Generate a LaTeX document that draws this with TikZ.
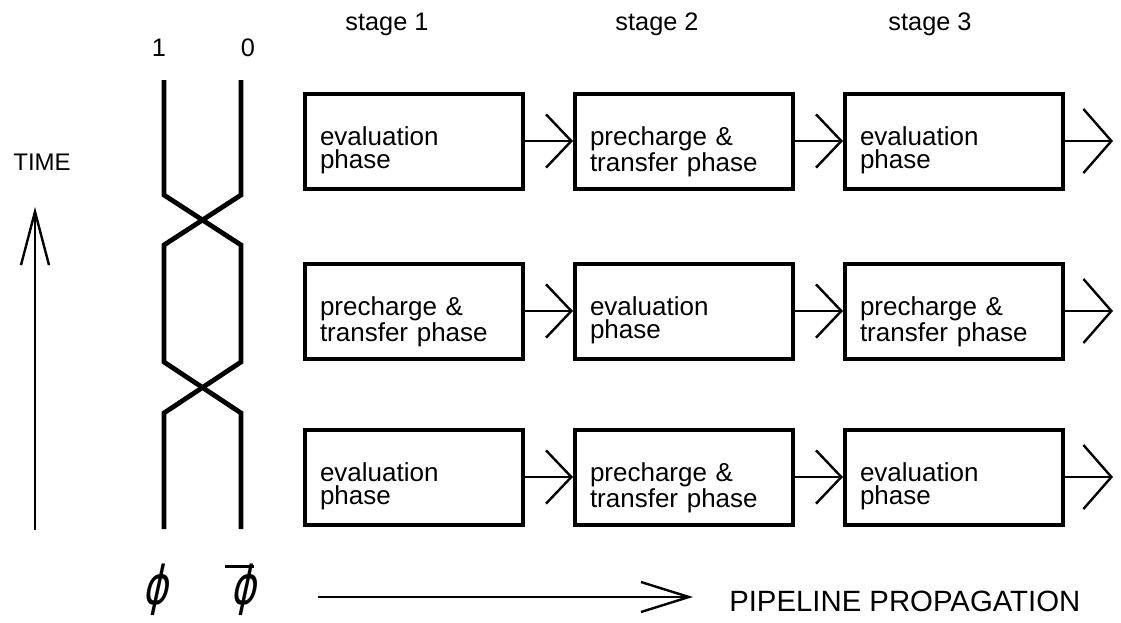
\documentclass[tikz,border=0pt]{standalone}
\usepackage{fontspec}
\setmainfont{Liberation Sans}
\newfontfamily\phifont[FakeSlant=0.3]{DejaVu Sans}
\usepackage{graphicx}
\usetikzlibrary{arrows.meta}
\newcommand{\phiglyph}{{\phifont\fontsize{40}{40}\selectfont\scalebox{0.72}[1]{ϕ}}}
\begin{document}
\begin{tikzpicture}[x=0.75pt,y=-0.75pt,
  box/.style={draw, line width=3pt, minimum width=163.5pt, minimum height=71.25pt,
    inner sep=0pt, text width=141pt, align=left,
    font=\fontsize{19.5}{17}\selectfont, text height=28pt, text depth=21pt},
  link/.style={line width=1.6pt, -{Straight Barb[length=19pt,width=40pt,line width=1.8pt]}},
  outlink/.style={line width=1.6pt, -{Straight Barb[length=21pt,width=48pt,line width=1.8pt]}},
  signal/.style={line width=3.6pt},
  lab/.style={inner sep=0pt, anchor=base, font=\fontsize{19}{19}\selectfont},
  phisym/.style={inner sep=0pt}
]
\useasboundingbox (0,0) rectangle (1121,622);

% stage labels
\node[lab] (st1) at (387,30) {stage 1};
\node[lab] (st2) at (657,30) {stage 2};
\node[lab] (st3) at (930,30) {stage 3};

% signal level labels
\node[lab] (one) at (159,56) {1};
\node[lab] (zero) at (248,56) {0};

% clock signals
\draw[signal] (164,80) -- (164,195) -- (241,245) -- (241,362) -- (164,413) -- (164,529);
\draw[signal] (241,80) -- (241,195) -- (164,245) -- (164,362) -- (241,413) -- (241,529);

% phi symbols
\node[phisym] (phi) at (155,590) {\phiglyph};
\node[phisym] (phibar) at (243,590) {\rlap{\hspace{-4pt}\raisebox{27.5pt}{\rule{22pt}{2.2pt}}}\phiglyph};

% time axis
\node[lab, font=\fontsize{18}{18}\selectfont] (time) at (42,170) {TIME};
\coordinate (tb) at (35,530);
\coordinate (tt) at (35,207);
\draw[line width=1.6pt, -{Straight Barb[length=40pt,width=21pt,line width=1.8pt]}] (tb) -- (tt);

% boxes
\node[box] (b11) at (414,141) {evaluation\\phase};
\node[box] (b12) at (684,141) {precharge \&\\transfer phase};
\node[box] (b13) at (954,141) {evaluation\\phase};

\node[box] (b21) at (414,311) {precharge \&\\transfer phase};
\node[box] (b22) at (684,311) {evaluation\\phase};
\node[box] (b23) at (954,311) {precharge \&\\transfer phase};

\node[box] (b31) at (414,477) {evaluation\\phase};
\node[box] (b32) at (684,477) {precharge \&\\transfer phase};
\node[box] (b33) at (954,477) {evaluation\\phase};

\coordinate (o1) at (1113,141);
\coordinate (o2) at (1113,311);
\coordinate (o3) at (1113,477);

\draw[link] (b11.east) -- (b12.west);
\draw[link] (b12.east) -- (b13.west);
\draw[outlink] (b13.east) -- (o1);
\draw[link] (b21.east) -- (b22.west);
\draw[link] (b22.east) -- (b23.west);
\draw[outlink] (b23.east) -- (o2);
\draw[link] (b31.east) -- (b32.west);
\draw[link] (b32.east) -- (b33.west);
\draw[outlink] (b33.east) -- (o3);

% pipeline propagation
\coordinate (pa) at (318,597);
\coordinate (pb) at (693,597);
\draw[line width=1.6pt, -{Straight Barb[length=36pt,width=22.5pt,line width=1.8pt]}] (pa) -- (pb);
\node[lab, anchor=base west, font=\fontsize{22}{22}\selectfont] (pipe) at (729,611) {PIPELINE PROPAGATION};
\end{tikzpicture}
\end{document}
